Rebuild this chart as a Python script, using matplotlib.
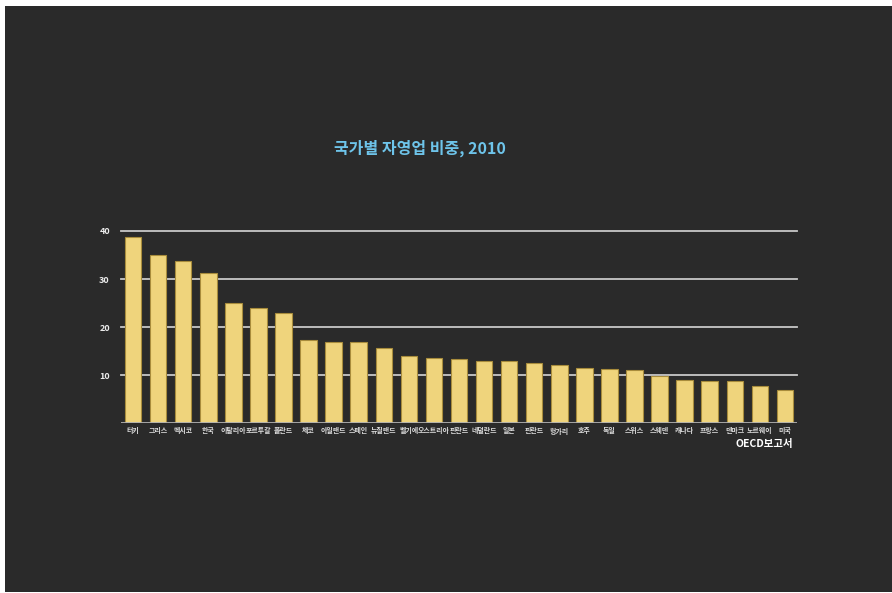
import matplotlib
matplotlib.use("Agg")
import matplotlib.pyplot as plt
from matplotlib.patches import Rectangle

plt.rcParams['font.family'] = ['Noto Sans CJK KR', 'DejaVu Sans']

countries = ["터키", "그리스", "멕시코", "한국", "이탈리아", "포르투갈", "폴란드", "체코",
             "아일랜드", "스페인", "뉴질랜드", "벨기에", "오스트리아", "핀란드", "네덜란드",
             "일본", "핀란드", "헝가리", "호주", "독일", "스위스", "스웨덴", "캐나다",
             "프랑스", "덴마크", "노르웨이", "미국"]
values = [38.8, 35.1, 33.8, 31.2, 25.1, 24.0, 22.9, 17.3, 16.9, 17.0, 15.7, 13.9, 13.6,
          13.3, 13.0, 13.0, 12.6, 12.1, 11.5, 11.2, 11.0, 9.8, 9.1, 8.9, 8.7, 7.7, 6.9]
yticks = [10, 20, 30, 40]
title = "국가별 자영업 비중, 2010"
source = "OECD보고서"

bg = "#2a2a2a"
fig = plt.figure(figsize=(8.92, 5.93), dpi=100, facecolor="white")
fig.patches.append(Rectangle((5/892, 1/593), 1 - 5/892, (593-7)/593,
                             transform=fig.transFigure, facecolor=bg,
                             edgecolor="none", zorder=-10))

ax = fig.add_axes([121/892, 169.7/593, 676/892, 193.3/593])
ax.set_facecolor("none")
x = list(range(len(values)))
ax.bar(x, values, width=0.66, color="#efd47c", edgecolor="#a88c3c",
       linewidth=0.8, zorder=3)
ax.set_xlim(-0.48, len(values) - 0.52)
ax.set_ylim(0, 40.2)
ax.set_yticks(yticks)
ax.set_yticklabels([str(t) for t in yticks], color="#ececec", fontsize=6.5,
                   fontweight="bold")
ax.set_xticks(x)
ax.set_xticklabels(countries, color="#dcdcdc", fontsize=5.0, fontweight="bold")
ax.tick_params(axis="both", length=0)
ax.tick_params(axis="y", pad=8)
ax.tick_params(axis="x", pad=3)
for t in yticks:
    ax.axhline(t, color="#c8c8c8", linewidth=1.3, zorder=2, clip_on=False)
ax.axhline(0, color="#b0b0b0", linewidth=1.3, zorder=4)
for s in ax.spines.values():
    s.set_visible(False)

fig.text(420/892, 1 - 148/593, title, color="#6ec4ea", fontsize=11.5,
         fontweight="bold", ha="center", va="center")
fig.text(793/892, 1 - 444/593, source, color="white", fontsize=7.5,
         fontweight="bold", ha="right", va="center")

fig.savefig("out.png", dpi=100, facecolor=fig.get_facecolor())
